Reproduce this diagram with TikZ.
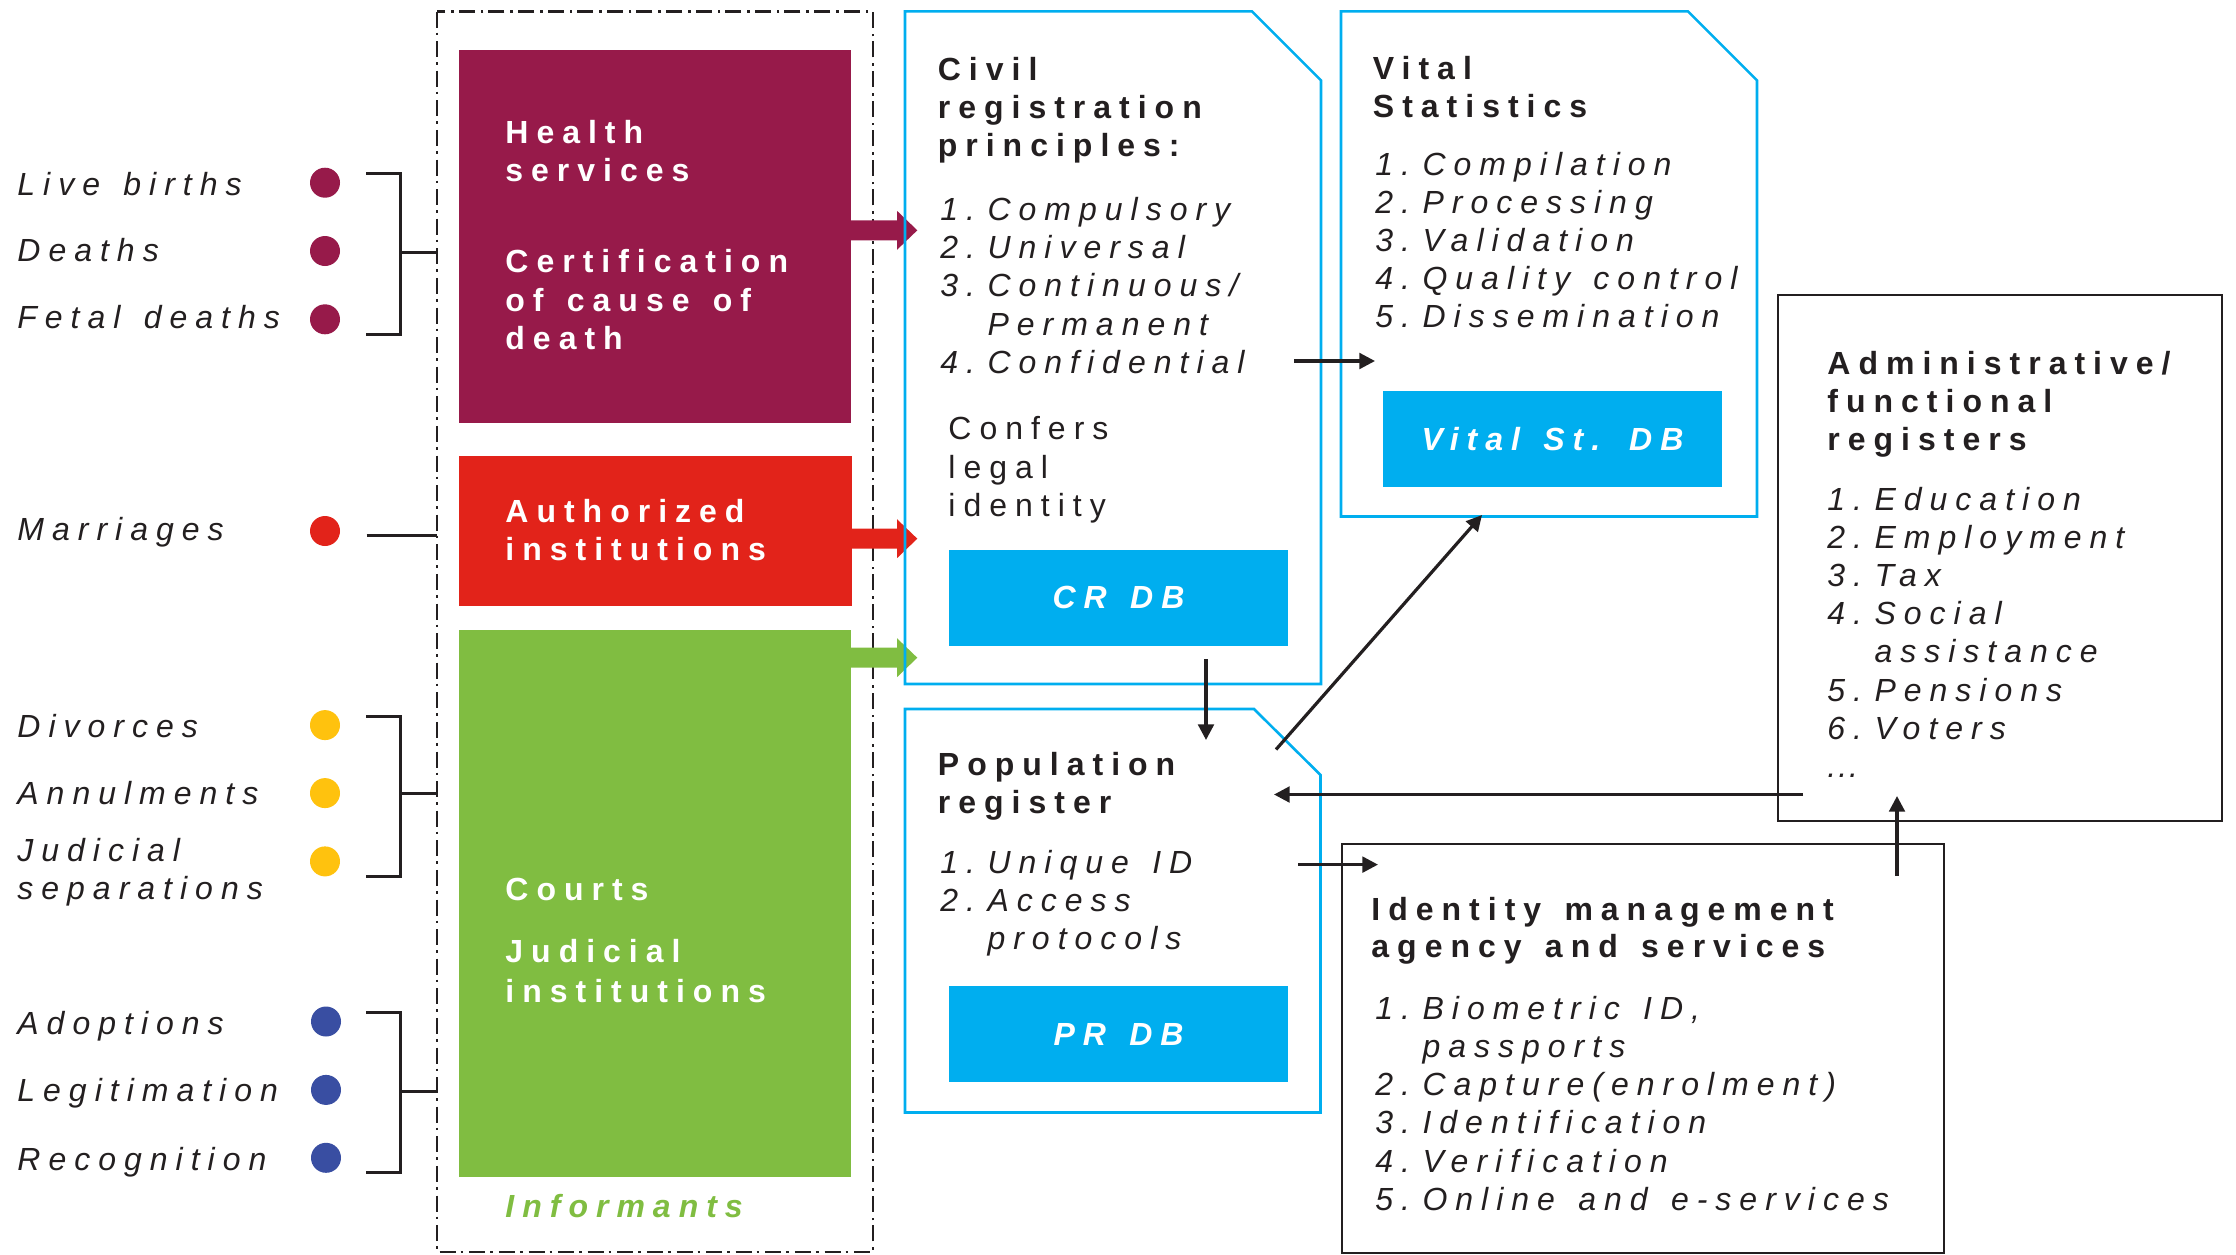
\documentclass[tikz,border=0pt]{standalone}
\usepackage{fontspec}
\setmainfont{Liberation Sans}[LetterSpace=25,Ligatures=NoCommon,WordSpace=1.38]
\usetikzlibrary{arrows.meta}
\definecolor{maroon}{HTML}{971A4A}
\definecolor{crimson}{HTML}{E2231A}
\definecolor{leaf}{HTML}{80BD41}
\definecolor{sky}{HTML}{00AEEF}
\definecolor{amber}{HTML}{FFC20E}
\definecolor{navy}{HTML}{394EA2}
\definecolor{ink}{HTML}{231F20}
\newcommand\threedots{.\kern1pt.\kern1pt.}
\newcommand\nsp{\kern0.39em}
\newcommand\txtlines[6]{%
  \foreach \lineT [count=\lineI] in {#6}{%
    \node[txt,#1] (#2\lineI) at (#3,{#4+(\lineI-1)*#5}) {\lineT};}}
\tikzset{
  txt/.style={anchor=base west,inner sep=0pt,text=ink,font=\fontsize{16}{19}\selectfont},
  ttl/.style={font=\fontsize{16}{19}\selectfont\bfseries},
  itm/.style={font=\fontsize{16}{19}\selectfont\itshape},
  wht/.style={text=white,font=\fontsize{16}{19}\selectfont\bfseries},
  colbox/.style={anchor=north west,inner sep=0pt,draw=none},
  dbbox/.style={fill=sky,inner sep=0pt,minimum width=169.5pt,minimum height=48pt,text=white,
    font=\fontsize{16}{19}\selectfont\bfseries\itshape},
  blkbox/.style={anchor=north west,inner sep=0pt,draw=ink,line width=1.1pt},
  cyanbox/.style={draw=sky,line width=1.3pt,line join=miter},
  dot/.style={circle,inner sep=0pt,minimum size=15pt,draw=none},
  bracket/.style={draw=ink,line width=1.5pt},
  arr/.style={draw=ink,line width=1.6pt,-{Triangle[length=7.8pt,width=7.8pt]}},
  dashbox/.style={draw=ink,line width=1.3pt,dash pattern=on 8pt off 2.5pt on 1.3pt off 3pt}
}
\begin{document}
\begin{tikzpicture}[x=0.5pt,y=-0.5pt]
\useasboundingbox (0,0) rectangle (2236,1254);
% informants frame
\coordinate (fr1) at (437,11.5); \coordinate (fr2) at (873,1252);
\draw[dashbox] (fr1) rectangle (fr2);
% coloured boxes
\node[colbox,fill=maroon,minimum width=196pt,minimum height=186.6pt] (health) at (459,49.3) {};
\node[colbox,fill=crimson,minimum width=196.5pt,minimum height=74.85pt] (auth) at (459,456) {};
\node[colbox,fill=leaf,minimum width=196pt,minimum height=273.5pt] (court) at (459,630) {};
\txtlines{wht}{hs}{505}{143.3}{37.7}{Health,services}
\txtlines{wht}{cc}{505}{272.7}{38.3}{Certification,of cause of,death}
\txtlines{wht}{ai}{505}{522.7}{38}{Authorized,institutions}
\node[txt,wht] (ct) at (505,900.2) {Courts};
\txtlines{wht}{ji}{505}{962.9}{39.2}{Judicial,institutions}
\node[txt,text=leaf,font=\fontsize{16}{19}\selectfont\bfseries\itshape] (inf) at (505,1217.7) {Informants};
% block arrows
\foreach \c/\col in {230.3/maroon,538.7/crimson,657.7/leaf}{
  \fill[\col] (851,\c-10) -- (897,\c-10) -- (897,\c-19.5) -- (917.3,\c) -- (897,\c+19.5) -- (897,\c+10) -- (851,\c+10) -- cycle;}
% left labels
\node[txt,itm] (lb1) at (17,195) {Live births};
\node[txt,itm] (lb2) at (17,261.7) {Deaths};
\node[txt,itm] (lb3) at (17,328.3) {Fetal deaths};
\node[txt,itm] (lb4) at (17,540) {Marriages};
\node[txt,itm] (lb5) at (17,737.3) {Divorces};
\node[txt,itm] (lb6) at (17,804.8) {Annulments};
\node[txt,itm] (lb7) at (17,861.4) {Judicial};
\node[txt,itm] (lb8) at (17,899) {separations};
\node[txt,itm] (lb9) at (17,1034.5) {Adoptions};
\node[txt,itm] (lb10) at (17,1101.2) {Legitimation};
\node[txt,itm] (lb11) at (17,1170) {Recognition};
% dots
\node[dot,fill=maroon] (d1) at (325,182.7) {};
\node[dot,fill=maroon] (d2) at (325,251) {};
\node[dot,fill=maroon] (d3) at (325,319.3) {};
\node[dot,fill=crimson] (d4) at (325,531) {};
\node[dot,fill=amber] (d5) at (325,725.1) {};
\node[dot,fill=amber] (d6) at (325,793.1) {};
\node[dot,fill=amber] (d7) at (325,861.4) {};
\node[dot,fill=navy] (d8) at (326,1021.5) {};
\node[dot,fill=navy] (d9) at (326,1089.9) {};
\node[dot,fill=navy] (d10) at (326,1157.8) {};
% brackets
\foreach \t/\b/\m [count=\k] in {173.3/334.3/252,716.2/876.4/793.9,1012.2/1172.4/1091}{
  \coordinate (bt\k) at (366,\t); \coordinate (bb\k) at (366,\b);
  \coordinate (bm\k) at (400,\m); \coordinate (be\k) at (437,\m);
  \draw[bracket] (bt\k) -- (400,\t) -- (400,\b) -- (bb\k);
  \draw[bracket] (bm\k) -- (be\k);}
\coordinate (mr1) at (366.7,535.3); \coordinate (mr2) at (437,535.3);
\draw[bracket] (mr1) -- (mr2);
% civil registration box
\coordinate (cv1) at (905,11.4); \coordinate (cv2) at (1252,11.4); \coordinate (cv3) at (1321,80.4);
\coordinate (cv4) at (1321,684); \coordinate (cv5) at (905,684);
\draw[cyanbox] (cv1) -- (cv2) -- (cv3) -- (cv4) -- (cv5) -- cycle;
\txtlines{ttl}{cvt}{937.4}{80.4}{38}{Civil,registration,principles:}
\txtlines{itm}{cvi}{940}{220.4}{38.2}{1.\nsp Compulsory,2.\nsp Universal,3.\nsp Continuous/,\phantom{3.\nsp}Permanent,4.\nsp Confidential}
\txtlines{}{cf}{948}{439.3}{38.75}{Confers,legal,identity}
\node[dbbox] (crdb) at (1118.5,597.9) {CR DB};
% vital statistics box
\coordinate (vs1) at (1341,11.4); \coordinate (vs2) at (1688,11.4); \coordinate (vs3) at (1757,80.4);
\coordinate (vs4) at (1757,516.5); \coordinate (vs5) at (1341,516.5);
\draw[cyanbox] (vs1) -- (vs2) -- (vs3) -- (vs4) -- (vs5) -- cycle;
\txtlines{ttl}{vst}{1372.5}{79.3}{37.7}{Vital,Statistics}
\txtlines{itm}{vsi}{1375}{175}{38.2}{1.\nsp Compilation,2.\nsp Processing,3.\nsp Validation,4.\nsp Quality control,5.\nsp Dissemination}
\node[dbbox] (vsdb) at (1552.5,439) {Vital St. DB};
% population register box
\coordinate (pr1) at (905,709); \coordinate (pr2) at (1254,709); \coordinate (pr3) at (1320.5,775);
\coordinate (pr4) at (1320.5,1112.5); \coordinate (pr5) at (905,1112.5);
\draw[cyanbox] (pr1) -- (pr2) -- (pr3) -- (pr4) -- (pr5) -- cycle;
\txtlines{ttl}{prt}{937.5}{775.7}{37.6}{Population,register}
\txtlines{itm}{pri}{940}{873.5}{38}{1.\nsp Unique ID,2.\nsp Access,\phantom{2.\nsp}protocols}
\node[dbbox] (prdb) at (1118.5,1034) {PR DB};
% administrative registers box
\node[blkbox,minimum width=222pt,minimum height=263.2pt] (adm) at (1777,293.7) {};
\txtlines{ttl}{adt}{1827}{374.3}{38.3}{Administrative/,functional,registers}
\txtlines{itm}{adi}{1827}{510}{38.23}{1.\nsp Education,2.\nsp Employment,3.\nsp Tax,4.\nsp Social,\phantom{4.\nsp}assistance,5.\nsp Pensions,6.\nsp Voters,\threedots}
% identity management box
\node[blkbox,minimum width=301pt,minimum height=204.3pt] (idm) at (1341,843) {};
\txtlines{ttl}{idt}{1371}{920}{37.6}{Identity management,agency and services}
\txtlines{itm}{idi}{1375}{1019.1}{38.26}{{1.\nsp Biometric ID,},\phantom{1.\nsp}passports,2.\nsp Capture(enrolment),3.\nsp Identification,4.\nsp Verification,5.\nsp Online and e-services}
% connectors
\coordinate (a1s) at (1294,361); \coordinate (a1e) at (1375,361);
\draw[arr] (a1s) -- (a1e);
\coordinate (a2s) at (1206,659); \coordinate (a2e) at (1206,740);
\draw[arr] (a2s) -- (a2e);
\coordinate (a3s) at (1276,749.5); \coordinate (a3e) at (1482,515);
\draw[arr] (a3s) -- (a3e);
\coordinate (a4s) at (1803,794.5); \coordinate (a4e) at (1274,794.5);
\draw[arr] (a4s) -- (a4e);
\coordinate (a5s) at (1298,864.6); \coordinate (a5e) at (1378,864.6);
\draw[arr] (a5s) -- (a5e);
\coordinate (a6s) at (1897,876); \coordinate (a6e) at (1897,796);
\draw[arr] (a6s) -- (a6e);
\end{tikzpicture}
\end{document}
